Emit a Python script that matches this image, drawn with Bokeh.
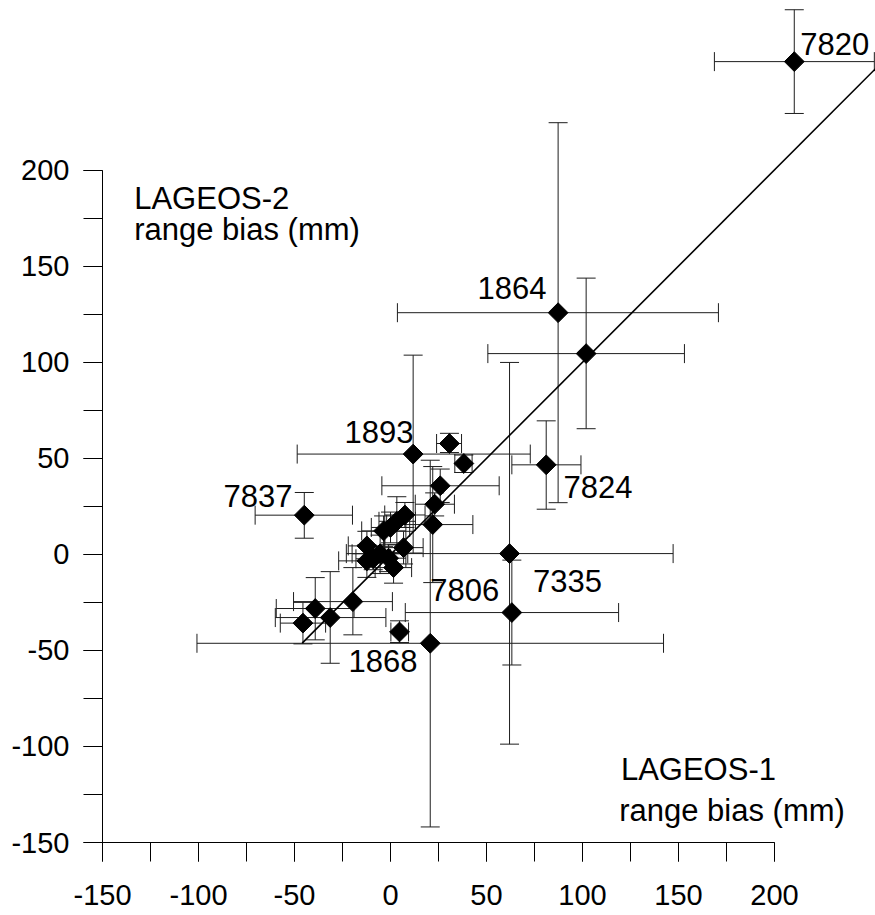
import math
from bokeh.plotting import figure
from bokeh.models import (ColumnDataSource, Whisker, TeeHead, Range1d,
                          SingleIntervalTicker, CustomJSTickFormatter)
from bokeh.core.properties import value
from bokeh.embed import file_html
from bokeh.resources import INLINE

# ---- data (range biases in mm) ----
lageos1 = [210.3, 87.3, 101.9, 81.1, 11.8, 30.7, 38.2, 25.9, 23.0, 22.0,
           -12.3, -12.3, -5.4, 1.6, 6.8, -3.6, 0.0, 3.3, 7.5, -1.0, -9.0,
           -45.6, -39.2, -19.6, -31.4, 4.7, -44.9, 62.0, 63.2, 20.7]
lageos2 = [256.5, 125.8, 104.5, 46.6, 52.2, 57.7, 47.3, 35.7, 26.1, 15.5,
           4.4, -3.4, 0.3, -6.9, 3.5, 12.2, 14.0, 17.2, 20.5, -2.0, -2.3,
           -35.8, -28.2, -24.6, -32.9, -40.4, 20.4, 0.4, -30.3, -46.3]
lageos1_lo = [168.7, 3.6, 50.7, 63.2, -48.6, 24.0, 33.5, -4.5, 12.9, -2.0,
              -22.0, -27.0, -20.0, -8.0, -3.0, -15.0, -10.0, -6.0, -3.0, -10.0, -18.0,
              -57.4, -59.5, -50.5, -60.0, 0.2, -70.5, -23.0, 7.7, -100.8]
lageos1_hi = [252.0, 170.8, 153.1, 99.2, 72.8, 37.0, 42.5, 56.6, 33.3, 42.9,
              -3.0, 2.0, 9.0, 11.0, 17.0, 8.0, 10.0, 13.0, 18.0, 8.0, 0.0,
              -33.8, -19.0, 1.0, -2.4, 9.4, -19.8, 147.2, 118.8, 142.2]
lageos2_lo = [229.5, 26.9, 65.4, 23.5, 0.7, 53.0, 42.6, 27.0, 20.0, -14.7,
              -3.0, -12.0, -10.0, -15.0, -5.0, 4.0, 6.0, 5.0, 14.0, -9.0, -8.0,
              -46.6, -44.5, -41.9, -56.7, -45.9, 8.4, -98.8, -57.6, -141.9]
lageos2_hi = [283.5, 224.7, 143.8, 69.5, 103.7, 63.0, 51.7, 44.4, 32.0, 45.7,
              12.0, 5.0, 10.0, 1.0, 12.0, 20.0, 22.0, 30.0, 27.0, 5.0, 4.0,
              -25.0, -12.1, -6.9, -9.0, -34.6, 32.2, 99.9, -3.0, 49.0]

# regression line end points
fit_x = [-46.0, 252.6]
fit_y = [-46.2, 252.8]

# station labels
station_names = ["7820", "1864", "1893", "7824", "7837", "7806", "7335", "1868"]
station_lx = [213.4, 45.3, -24.0, 90.1, -87.0, 20.7, 74.2, -21.9]
station_ly = [265.8, 138.8, 63.9, 35.0, 30.6, -18.4, -14.0, -55.7]

# axis titles placed inside the plot
title_texts = ["LAGEOS-2", "range bias (mm)", "LAGEOS-1", "range bias (mm)"]
title_x = [-133.5, -133.5, 120.0, 119.1]
title_y = [185.5, 169.1, -111.8, -133.1]

FONT = "Liberation Sans"

p = figure(width=875, height=915, output_backend="svg", toolbar_location=None,
           x_range=Range1d(-150, -150 + 773 / 1.92),
           y_range=Range1d(-150, -150 + 842 / 1.921),
           min_border_left=102, min_border_right=0, min_border_top=0,
           min_border_bottom=73)
p.outline_line_color = None
p.xgrid.visible = False
p.ygrid.visible = False
p.background_fill_color = "white"
p.border_fill_color = "white"

for ax in (p.xaxis[0], p.yaxis[0]):
    ax.ticker = SingleIntervalTicker(interval=50, num_minor_ticks=2)
    ax.formatter = CustomJSTickFormatter(code="return tick.toFixed(0);")
    ax.bounds = (-150, 200)
    ax.major_tick_out = 19
    ax.major_tick_in = 0
    ax.minor_tick_out = 19
    ax.minor_tick_in = 0
    ax.axis_line_color = "black"
    ax.major_tick_line_color = "black"
    ax.minor_tick_line_color = "black"
    ax.major_label_text_font = FONT
    ax.major_label_text_font_size = "29px"
    ax.major_label_text_color = "black"
p.xaxis[0].major_label_standoff = 23
p.yaxis[0].major_label_standoff = 14

src = ColumnDataSource(dict(x=lageos1, y=lageos2, xlo=lageos1_lo, xhi=lageos1_hi,
                            ylo=lageos2_lo, yhi=lageos2_hi))

EB = "#1e1e1e"
wh = Whisker(base="y", lower="xlo", upper="xhi", dimension="width", source=src,
             line_color=EB, line_width=1,
             lower_head=TeeHead(size=19, line_color=EB, line_width=1),
             upper_head=TeeHead(size=19, line_color=EB, line_width=1),
             level="underlay")
wv = Whisker(base="x", lower="ylo", upper="yhi", dimension="height", source=src,
             line_color=EB, line_width=1,
             lower_head=TeeHead(size=19, line_color=EB, line_width=1),
             upper_head=TeeHead(size=19, line_color=EB, line_width=1),
             level="underlay")
p.add_layout(wh)
p.add_layout(wv)

p.line(fit_x, fit_y, line_color="black", line_width=1.6)

p.scatter("x", "y", source=src, marker="square", size=14, angle=math.pi / 4,
          fill_color="black", line_color="black", line_width=1)

p.text(x=station_lx, y=station_ly, text=station_names, text_font=value(FONT),
       text_font_size="31px", text_baseline="alphabetic", text_align="left",
       text_color="black")
p.text(x=title_x, y=title_y, text=title_texts, text_font=value(FONT),
       text_font_size="31px", text_baseline="alphabetic", text_align="left",
       text_color="black")

open("out.html", "w").write(file_html(p, INLINE))
